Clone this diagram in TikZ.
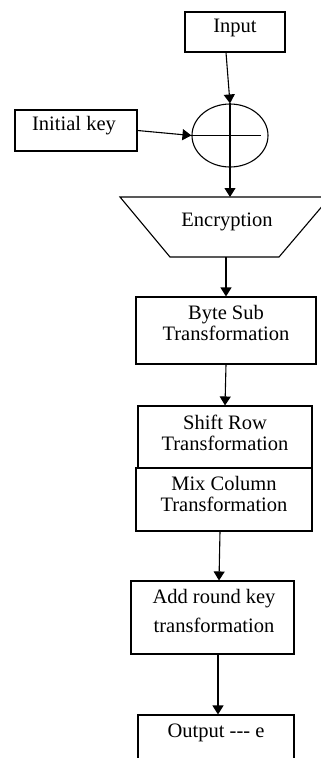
\documentclass[tikz,border=0pt]{standalone}
\usepackage{fontspec}
\setmainfont{Liberation Serif}
\usetikzlibrary{arrows.meta,shapes.geometric}

\tikzset{
  box/.style={draw, line width=1.1pt, inner sep=0pt},
  txt/.style={inner sep=0pt, align=center, font=\fontsize{20.5}{21}\selectfont},
  arr/.style={line width=1.1pt, -{Triangle[width=11pt,length=9pt]}},
  thin/.style={line width=1.1pt}
}

\begin{document}
\begin{tikzpicture}[x=1pt,y=-1pt]
  \useasboundingbox (0,0) rectangle (321,758);
  \clip (0,0) rectangle (321,758);

  % boxes
  \node[box, minimum width=100pt, minimum height=40pt] (input) at (235,32) {};
  \node[box, minimum width=122pt, minimum height=41pt] (key) at (76,130.5) {};
  \node[box, ellipse, minimum width=76pt, minimum height=63pt] (xor) at (230,135.5) {};
  \node[box, minimum width=180pt, minimum height=67pt] (bytesub) at (226,330.5) {};
  \node[box, minimum width=174pt, minimum height=62pt] (shiftrow) at (225,437) {};
  \node[box, minimum width=176pt, minimum height=63pt] (mixcol) at (224,499.5) {};
  \node[box, minimum width=163pt, minimum height=73pt] (addkey) at (212.5,617.5) {};
  \node[box, minimum width=156pt, minimum height=60pt] (output) at (216,745) {};

  % encryption trapezoid (long side on top)
  \coordinate (encTL) at (120,197);
  \coordinate (encTR) at (330,197);
  \coordinate (encBR) at (279,257);
  \coordinate (encBL) at (170,257);
  \coordinate (encTop) at (230,197);
  \coordinate (encBot) at (226,257);
  \draw[thin] (encTL) -- (encTR) -- (encBR) -- (encBL) -- cycle;

  % XOR cross
  \draw[thin] (xor.north) -- (xor.south);
  \draw[thin] (xor.west) -- ([xshift=-8pt]xor.east);

  % texts
  \node[txt] (inputT) at (235,28) {Input};
  \node[txt] (keyT) at (74,126) {Initial key};
  \node[txt] (encT) at (227,222) {Encryption};
  \node[txt] (bytesubT) at (226,323) {Byte Sub\\Transformation};
  \node[txt] (shiftrowT) at (225,432.5) {Shift Row\\Transformation};
  \node[txt] (mixcolT) at (224,494) {Mix Column\\Transformation};
  \node[txt, font=\fontsize{20.5}{29}\selectfont] (addkeyT) at (214,611) {Add round key\\transformation};
  \node[txt] (outputT) at (216,733) {Output -{}-{}- e};

  % connectors
  \draw[arr] ([xshift=-9pt]input.south) -- (xor.north);
  \draw[arr] (key.east) -- (xor.west);
  \draw[arr] (xor.south) -- (encTop);
  \draw[arr] (encBot) -- (bytesub.north);
  \draw[arr] (bytesub.south) -- (shiftrow.north);
  \draw[arr] ([xshift=-4pt]mixcol.south) -- ([xshift=6.5pt]addkey.north);
  \draw[arr] ([xshift=5.5pt]addkey.south) -- ([xshift=2pt]output.north);
\end{tikzpicture}
\end{document}
